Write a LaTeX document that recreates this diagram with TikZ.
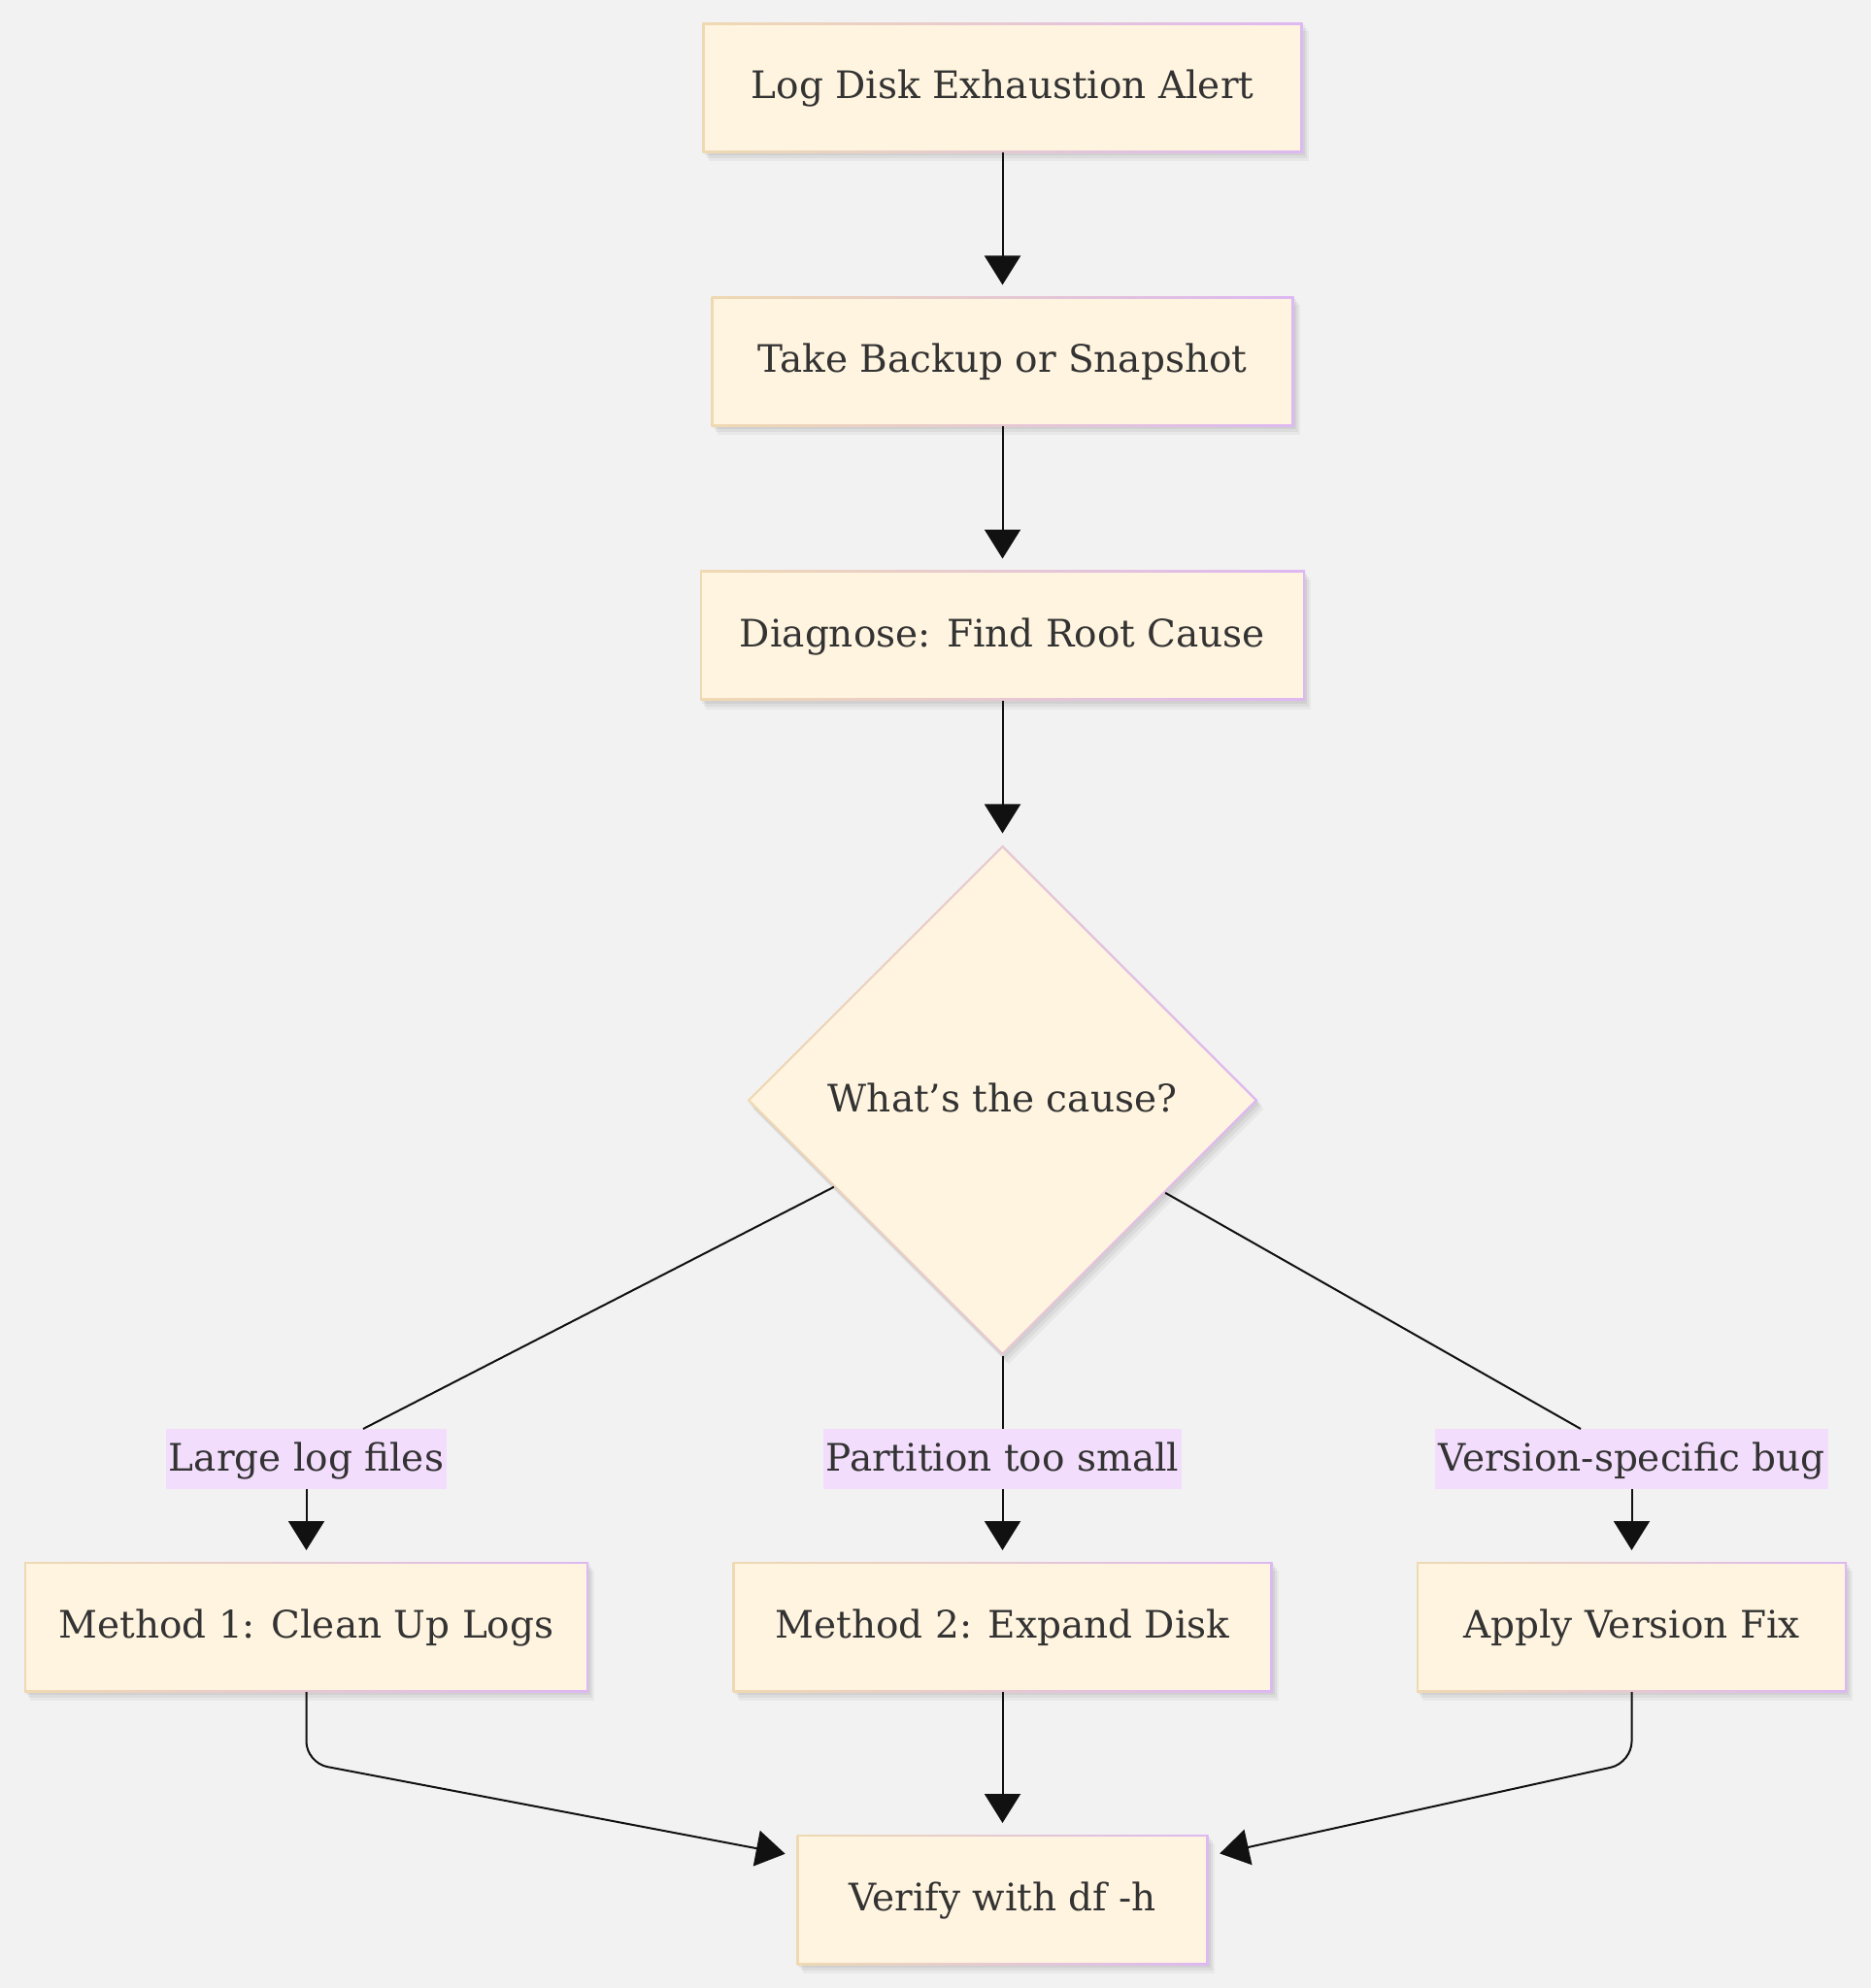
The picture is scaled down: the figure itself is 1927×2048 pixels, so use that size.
\documentclass[tikz,border=0pt]{standalone}
\usepackage{fontspec}
\setmainfont{DejaVu Serif}
\usetikzlibrary{arrows.meta,shapes.geometric}
\definecolor{bgc}{HTML}{F2F2F2}
\definecolor{cream}{HTML}{FFF4DF}
\definecolor{bordL}{HTML}{EFD9B2}
\definecolor{bordR}{HTML}{DDB8F2}
\definecolor{txt}{HTML}{333333}
\definecolor{lblbg}{HTML}{F3DDFC}
\definecolor{edgec}{HTML}{111111}
\begin{document}
\begin{tikzpicture}[x=0.5pt,y=-0.5pt,
  nodefont/.style={font=\fontsize{19.5pt}{23pt}\selectfont, text=txt, text height=11.5pt, text depth=0pt},
  shad/.style={
    preaction={fill=black, opacity=0.05, transform canvas={xshift=1pt,yshift=-1.5pt}},
    preaction={fill=black, opacity=0.05, transform canvas={xshift=2pt,yshift=-3pt}},
    preaction={fill=black, opacity=0.04, transform canvas={xshift=3pt,yshift=-4.5pt}}},
  box/.style={rectangle, nodefont, shad, left color=bordL, right color=bordR,
    minimum height=67pt, inner sep=0pt, outer sep=0pt,
    path picture={\fill[cream] ([shift={(1.2pt,1.2pt)}]path picture bounding box.south west) rectangle ([shift={(-1.2pt,-1.2pt)}]path picture bounding box.north east);}},
  decision/.style={diamond, aspect=1, nodefont, shad, left color=bordL, right color=bordR,
    minimum width=263pt, minimum height=263pt, inner sep=0pt, outer sep=0pt,
    path picture={\fill[cream] ([yshift=-1.7pt]path picture bounding box.north) -- ([xshift=-1.7pt]path picture bounding box.east) -- ([yshift=1.7pt]path picture bounding box.south) -- ([xshift=1.7pt]path picture bounding box.west) -- cycle;}},
  elabel/.style={rectangle, nodefont, text height=12.5pt, fill=lblbg, inner xsep=1.5pt, inner ysep=0pt, minimum height=31pt, outer sep=0pt},
  conn/.style={draw=edgec, line width=1pt},
  arr/.style={conn, -{Triangle[length=15pt,width=18.5pt]}, shorten >=6pt}
]
\useasboundingbox (0,0) rectangle (1927,2048);
\fill[bgc] (0,0) rectangle (1927,2048);

% nodes
\node[box, minimum width=309pt]   (b1) at (1032.5,90.5)  {Log Disk Exhaustion Alert};
\node[box, minimum width=300pt]   (b2) at (1032.5,372.5) {Take Backup or Snapshot};
\node[box, minimum width=311.5pt] (b3) at (1032.5,654.5) {Diagnose: Find Root Cause};
\node[decision] (dia) at (1032.5,1133.5) {What’s the cause?};

\node[elabel] (l1) at (315.5,1503)  {Large log files};
\node[elabel] (l2) at (1032.5,1503) {Partition too small};
\node[elabel] (l3) at (1680.5,1503) {Version-specific bug};

\node[box, minimum width=290.5pt] (m1) at (315.5,1676)  {Method 1: Clean Up Logs};
\node[box, minimum width=278pt]   (m2) at (1032.5,1676) {Method 2: Expand Disk};
\node[box, minimum width=221.5pt] (m3) at (1680.5,1676) {Apply Version Fix};

\node[box, minimum width=212pt]   (v)  at (1032.5,1957) {Verify with df -h};

% connectors
\draw[arr] (b1) -- (b2);
\draw[arr] (b2) -- (b3);
\draw[arr] (b3) -- (dia);

\draw[conn] (dia) -- ([xshift=29.25pt]l1.north);
\draw[arr] (l1) -- (m1);
\draw[conn] (dia) -- (l2);
\draw[arr] (l2) -- (m2);
\draw[conn] (dia) -- ([xshift=-26.25pt]l3.north);
\draw[arr] (l3) -- (m3);

\coordinate (cl) at (315.5,1816);
\coordinate (cr) at (1680.5,1816);
\draw[arr, rounded corners=11pt] (m1.south) -- (cl) -- ([yshift=-11pt]v.north west);
\draw[arr] (m2) -- (v);
\draw[arr, rounded corners=11pt] (m3.south) -- (cr) -- ([yshift=-11pt]v.north east);
\end{tikzpicture}
\end{document}
